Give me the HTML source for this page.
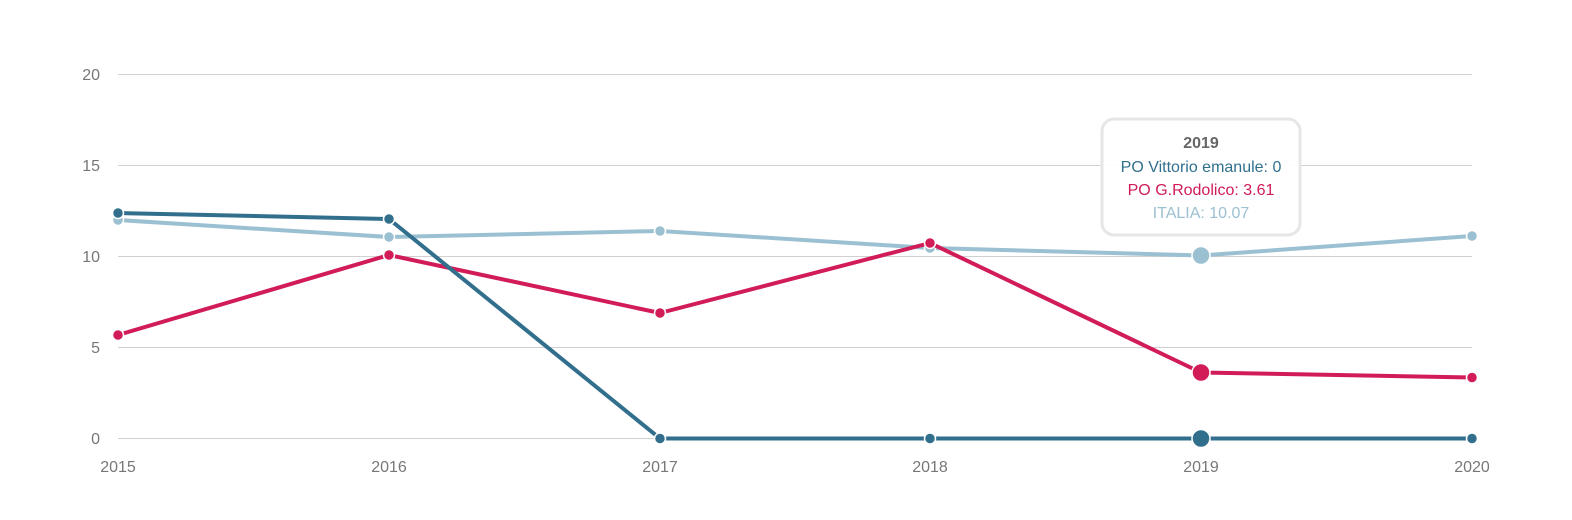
<!DOCTYPE html>
<html><head><meta charset="utf-8"><style>
html,body{margin:0;padding:0;background:#fff;}
svg{display:block;font-family:"Liberation Sans",Arial,sans-serif;}
</style></head><body>
<svg width="1572" height="520" viewBox="0 0 1572 520" xmlns="http://www.w3.org/2000/svg">
<g stroke="#d0d0d0" stroke-width="1">
<line x1="118" y1="74.5" x2="1472" y2="74.5"/>
<line x1="118" y1="165.5" x2="1472" y2="165.5"/>
<line x1="118" y1="256.5" x2="1472" y2="256.5"/>
<line x1="118" y1="347.5" x2="1472" y2="347.5"/>
<line x1="118" y1="438.5" x2="1472" y2="438.5"/>
</g>
<g fill="#777" font-size="16" text-anchor="end">
<text x="100" y="80">20</text><text x="100" y="171">15</text><text x="100" y="262">10</text><text x="100" y="353">5</text><text x="100" y="444">0</text>
</g>
<g fill="#777" font-size="16" text-anchor="middle">
<text x="118" y="472">2015</text><text x="389" y="472">2016</text><text x="660" y="472">2017</text><text x="930" y="472">2018</text><text x="1201" y="472">2019</text><text x="1472" y="472">2020</text>
</g>
<!-- ITALIA -->
<polyline fill="none" stroke="#9bc0d2" stroke-width="4" stroke-linejoin="round" points="118,220 389,237 660,231 930,248 1201,255.5 1472,236"/>
<g fill="#9bc0d2" stroke="#fff" stroke-width="1.5">
<circle cx="118" cy="220" r="5.5"/><circle cx="389" cy="237" r="5.5"/><circle cx="660" cy="231" r="5.5"/><circle cx="930" cy="248" r="5.5"/><circle cx="1472" cy="236" r="5.5"/><circle cx="1201" cy="255.5" r="9"/>
</g>
<!-- Rodolico -->
<polyline fill="none" stroke="#d11c57" stroke-width="4" stroke-linejoin="round" points="118,335 389,255 660,313 930,243 1201,372.5 1472,377.5"/>
<g fill="#d11c57" stroke="#fff" stroke-width="1.5">
<circle cx="118" cy="335" r="5.5"/><circle cx="389" cy="255" r="5.5"/><circle cx="660" cy="313" r="5.5"/><circle cx="930" cy="243" r="5.5"/><circle cx="1472" cy="377.5" r="5.5"/><circle cx="1201" cy="372.5" r="9"/>
</g>
<!-- Vittorio -->
<polyline fill="none" stroke="#316f8d" stroke-width="4" stroke-linejoin="round" points="118,213 389,219 660,438.5 930,438.5 1201,438.5 1472,438.5"/>
<g fill="#316f8d" stroke="#fff" stroke-width="1.5">
<circle cx="118" cy="213" r="5.5"/><circle cx="389" cy="219" r="5.5"/><circle cx="660" cy="438.5" r="5.5"/><circle cx="930" cy="438.5" r="5.5"/><circle cx="1472" cy="438.5" r="5.5"/><circle cx="1201" cy="438.5" r="9"/>
</g>
<!-- tooltip -->
<rect x="1102" y="119" width="198" height="116" rx="12" fill="#fff" fill-opacity="0.92" stroke="#e6e6e6" stroke-width="3"/>
<g text-anchor="middle" font-size="16">
<text x="1201" y="148" fill="#666" font-weight="bold">2019</text>
<text x="1201" y="172" fill="#316f8d">PO Vittorio emanule: 0</text>
<text x="1201" y="195" fill="#d11c57">PO G.Rodolico: 3.61</text>
<text x="1201" y="218" fill="#9bc0d2">ITALIA: 10.07</text>
</g>
</svg>
</body></html>
